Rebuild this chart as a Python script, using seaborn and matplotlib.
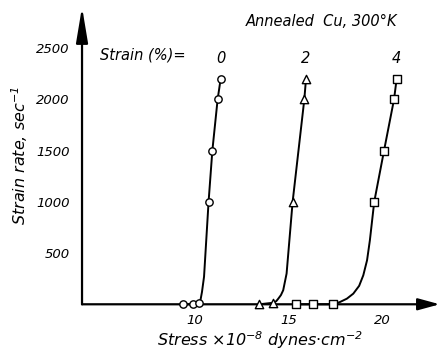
import matplotlib
matplotlib.use("Agg")
import matplotlib.pyplot as plt
import seaborn as sns

# ---- data (stress x1e-8 dynes/cm^2, strain rate 1/s) ----
strain_labels = ["0", "2", "4"]

pts0_s = [9.39, 9.92, 10.27, 10.76, 10.96, 11.24, 11.40]
pts0_r = [0, 0, 15, 1000, 1500, 2000, 2200]
line0_s = [9.39, 9.92, 10.27, 10.34, 10.41, 10.52, 10.76, 10.96, 11.24, 11.40]
line0_r = [0, 0, 15, 50, 120, 270, 1000, 1500, 2000, 2200]

pts2_s = [13.45, 14.19, 15.22, 15.84, 15.93]
pts2_r = [0, 15, 1000, 2000, 2200]
line2_s = [13.45, 14.19, 14.35, 14.46, 14.60, 14.72, 14.90, 15.22, 15.84, 15.93]
line2_r = [0, 15, 30, 55, 90, 137, 300, 1000, 2000, 2200]

pts4_s = [15.40, 16.28, 17.38, 19.55, 20.07, 20.60, 20.74]
pts4_r = [0, 0, 0, 1000, 1500, 2000, 2200]
line4_s = [15.40, 16.28, 17.38, 17.73, 18.10, 18.44, 18.75, 18.97, 19.17,
           19.32, 19.55, 20.07, 20.60, 20.74]
line4_r = [0, 0, 0, 22, 55, 104, 180, 283, 430, 625, 1000, 1500, 2000, 2200]

x_ticks = [10, 15, 20]
y_ticks = [500, 1000, 1500, 2000, 2500]

sns.set_theme(style="white")
plt.rcParams["font.family"] = ["DejaVu Sans"]
plt.rcParams["font.style"] = "italic"
plt.rcParams["text.color"] = "black"
plt.rcParams["axes.labelcolor"] = "black"
plt.rcParams["mathtext.fontset"] = "custom"
plt.rcParams["mathtext.rm"] = "DejaVu Sans:italic"
plt.rcParams["mathtext.it"] = "DejaVu Sans:italic"
plt.rcParams["mathtext.default"] = "it"

fig = plt.figure(figsize=(4.41, 3.59), dpi=100)
ax = fig.add_axes([0.186, 0.1524, 0.807, 0.828])

series = [
    (line0_s, line0_r, pts0_s, pts0_r, "o", 28),
    (line2_s, line2_r, pts2_s, pts2_r, "^", 36),
    (line4_s, line4_r, pts4_s, pts4_r, "s", 26),
]
for (ls, lr, ps, pr, mk, sz), lab in zip(series, strain_labels):
    sns.lineplot(x=ls, y=lr, sort=False, estimator=None, color="black",
                 lw=1.4, ax=ax)
    sns.scatterplot(x=ps, y=pr, marker=mk, s=sz, color="white",
                    edgecolor="black", linewidth=1.0, ax=ax, zorder=4)
    ax.text(ps[-1], pr[-1] + 205, lab, ha="center", va="center",
            fontsize=10.5, style="italic", color="black")

for art in ax.lines + ax.collections:
    art.set_clip_on(False)

ax.set_xlim(4.045, 22.93)
ax.set_ylim(0, 2903)
for sp in ax.spines.values():
    sp.set_visible(False)

ax.annotate("", xy=(0, 1), xytext=(0, 0), xycoords="axes fraction",
            arrowprops=dict(arrowstyle="-|>,head_length=1.8,head_width=0.3",
                            color="black", lw=1.6, shrinkA=0, shrinkB=0))
ax.annotate("", xy=(1.005, 0), xytext=(0, 0), xycoords="axes fraction",
            arrowprops=dict(arrowstyle="-|>,head_length=1.1,head_width=0.3",
                            color="black", lw=1.6, shrinkA=0, shrinkB=0))

ax.set_xticks(x_ticks)
ax.set_xticklabels([str(v) for v in x_ticks])
ax.set_yticks(y_ticks)
ax.set_yticklabels([str(v) for v in y_ticks])
ax.tick_params(axis="both", direction="in", length=5, width=1.3,
               colors="black", labelsize=9.5)
ax.tick_params(axis="y", pad=9, length=6)
ax.tick_params(axis="x", pad=7)
for t in ax.get_xticklabels() + ax.get_yticklabels():
    t.set_style("italic")

ax.set_xlabel(r"Stress $\times 10^{-8}$ dynes$\cdot$cm$^{-2}$", fontsize=11.5,
              labelpad=2, color="black")
ax.set_ylabel(r"Strain rate, sec$^{-1}$", fontsize=11.5, labelpad=4,
              color="black")

fig.text(322 / 441, 1 - 22 / 359, "Annealed  Cu, 300°K", ha="center",
         va="center", fontsize=10.5, style="italic", color="black")
fig.text(100 / 441, 1 - 55 / 359, "Strain (%)=", ha="left", va="center",
         fontsize=10.5, style="italic", color="black")

fig.savefig("out.png", dpi=100)
